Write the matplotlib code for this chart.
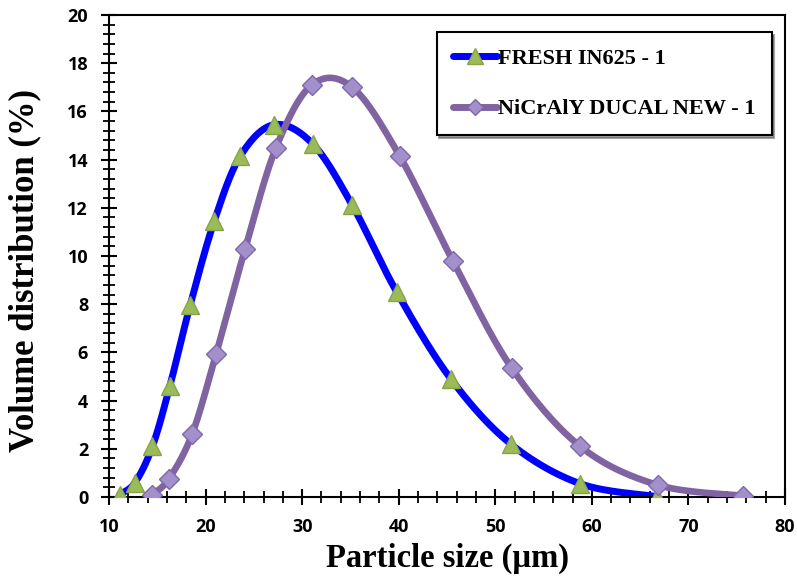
import numpy as np
import matplotlib
matplotlib.use("Agg")
import matplotlib.pyplot as plt
from matplotlib.ticker import MultipleLocator

# particle size (um) and volume distribution (%)
size_in625 = [11.1, 12.7, 14.5, 16.3, 18.4, 20.9, 23.6, 27.1, 31.1, 35.2, 39.8, 45.4, 51.6, 58.8, 66.7]
vol_in625 = [0.1, 0.6, 2.1, 4.6, 7.95, 11.45, 14.15, 15.45, 14.65, 12.1, 8.5, 4.9, 2.2, 0.55, 0.02]

size_nicraly = [14.5, 16.2, 18.6, 21.1, 24.1, 27.3, 31.0, 35.2, 40.1, 45.6, 51.7, 58.8, 66.8, 75.7]
vol_nicraly = [0.1, 0.75, 2.6, 5.95, 10.3, 14.5, 17.1, 17.0, 14.15, 9.8, 5.35, 2.1, 0.5, 0.05]

label_in625 = "FRESH IN625 - 1"
label_nicraly = "NiCrAlY DUCAL NEW - 1"


def smooth(xs, ys, n=30):
    # excel-ish smoothed line: cubic bezier with catmull-rom control points
    x = np.asarray(xs, float)
    y = np.asarray(ys, float)
    px = np.concatenate([[x[0]], x, [x[-1]]])
    py = np.concatenate([[y[0]], y, [y[-1]]])
    outx, outy = [], []
    t = np.linspace(0, 1, n)
    for i in range(1, len(px) - 2):
        p0 = np.array([px[i], py[i]])
        p3 = np.array([px[i + 1], py[i + 1]])
        c1 = p0 + (np.array([px[i + 1], py[i + 1]]) - np.array([px[i - 1], py[i - 1]])) / 6.0
        c2 = p3 - (np.array([px[i + 2], py[i + 2]]) - np.array([px[i], py[i]])) / 6.0
        b = ((1 - t) ** 3)[:, None] * p0 + (3 * (1 - t) ** 2 * t)[:, None] * c1 \
            + (3 * (1 - t) * t ** 2)[:, None] * c2 + (t ** 3)[:, None] * p3
        outx.extend(b[:, 0])
        outy.extend(b[:, 1])
    return np.array(outx), np.array(outy)


fig = plt.figure(figsize=(7.97, 5.83), dpi=100)
ax = fig.add_axes([109 / 797, 1 - 497 / 583, (785 - 109) / 797, (497 - 15) / 583])

blue = "#0000FF"
purple = "#8064A2"
tri_fc, tri_ec = "#9BBB59", "#86A44A"
dia_fc, dia_ec = "#A28FCC", "#7E68A8"

sx, sy = smooth(size_in625, vol_in625)
ax.plot(sx, sy, color=blue, lw=5, solid_capstyle="round", zorder=2)
sx2, sy2 = smooth(size_nicraly, vol_nicraly)
ax.plot(sx2, sy2, color=purple, lw=4.8, solid_capstyle="round", zorder=3)

ax.plot(size_in625, vol_in625, ls="none", marker="^", ms=13, mfc=tri_fc, mec=tri_ec, mew=1, zorder=4)
ax.plot(size_nicraly, vol_nicraly, ls="none", marker="D", ms=10.5, mfc=dia_fc, mec=dia_ec, mew=1, zorder=5)

# legend proxies
h1, = ax.plot([], [], color=blue, lw=5, marker="^", ms=11, mfc=tri_fc, mec=tri_ec, solid_capstyle="round")
h2, = ax.plot([], [], color=purple, lw=5, marker="D", ms=8.5, mfc=dia_fc, mec=dia_ec, solid_capstyle="round")
leg = ax.legend([h1, h2], [label_in625, label_nicraly], loc="upper right",
                bbox_to_anchor=(0.99, 0.978), frameon=True, fancybox=False, shadow=True,
                prop={"family": "Liberation Serif", "weight": "bold", "size": 16},
                handlelength=2.0, handletextpad=0.05, labelspacing=1.35, borderpad=0.72,
                borderaxespad=0.3)
leg.get_frame().set_edgecolor("black")
leg.get_frame().set_linewidth(1.5)

ax.set_xlim(10, 80)
ax.set_ylim(0, 20)
ax.xaxis.set_major_locator(MultipleLocator(10))
ax.xaxis.set_minor_locator(MultipleLocator(2))
ax.yaxis.set_major_locator(MultipleLocator(2))
ax.yaxis.set_minor_locator(MultipleLocator(0.4))
ax.tick_params(which="major", direction="inout", length=12, width=1.5)
ax.tick_params(which="minor", direction="inout", length=8, width=1.3)
ax.tick_params(axis="x", which="major", pad=9)
ax.tick_params(axis="y", which="major", pad=9)
ax.tick_params(top=False, right=False, which="both")
for s in ax.spines.values():
    s.set_linewidth(1.5)

for lab in ax.get_xticklabels() + ax.get_yticklabels():
    lab.set_fontfamily("Open Sans")
    lab.set_fontweight("bold")
    lab.set_fontsize(13)

ax.set_xlabel("Particle size (µm)", family="Liberation Serif", weight="bold", fontsize=23.5)
ax.set_ylabel("Volume distribution (%)", family="Liberation Serif", weight="bold", fontsize=25)
ax.xaxis.set_label_coords(0.5, -0.095)
ax.yaxis.set_label_coords(-0.1, 0.47)

fig.savefig("out.png", dpi=100)
